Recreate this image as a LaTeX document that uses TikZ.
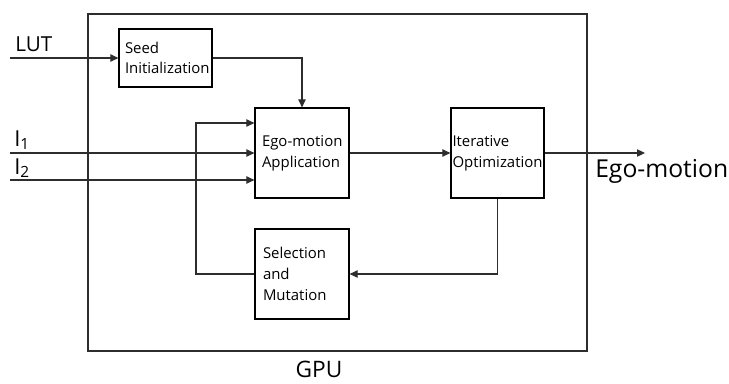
\documentclass[tikz,border=0pt]{standalone}
\usepackage{fontspec}
\setmainfont{Open Sans}
\usepackage{tikz}
\usetikzlibrary{
  arrows.meta,
  positioning,
  calc
}
\definecolor{wire}{RGB}{45,45,45}

\tikzset{
  block/.style={draw=black, line width=0.9pt, align=left, inner ysep=0pt,
    font=\fontsize{11.2}{15.5}\selectfont},
  wire/.style={draw=wire, line width=0.8pt, -{Triangle[length=6pt,width=5.5pt]}},
  sig/.style={font=\fontsize{15.5}{18}\selectfont, anchor=base west, inner sep=0pt}
}

\begin{document}
\begin{tikzpicture}[x=0.75pt, y=-0.75pt]
  \useasboundingbox (0,0) rectangle (729,383);
  % GPU frame
  \node[draw=wire, line width=0.8pt, minimum width=374.25pt, minimum height=252.75pt]
    (gpu) at (337.5,182.5) {};
  \node[sig, anchor=base, font=\fontsize{17}{20}\selectfont] (gpulbl) at (319,377) {GPU};

  % blocks
  \node[block, text width=60.75pt, inner xsep=4.5pt, minimum height=43.5pt]
    (seed) at (165.5,58) {Seed\\Initialization};
  \node[block, text width=60pt, inner xsep=5.25pt, minimum height=67.5pt]
    (ego) at (302,153) {\mbox{Ego-motion}\\Application};
  \node[block, text width=67.5pt, inner xsep=1.125pt, minimum height=67.5pt]
    (iter) at (497.5,153) {Iterative\\Optimization};
  \node[block, text width=58.5pt, inner xsep=6pt, minimum height=67.5pt]
    (sel) at (302,274) {Selection\\and\\Mutation};

  % inputs and output
  \coordinate (lutin) at (10,58);
  \coordinate (ione) at (10,153);
  \coordinate (itwo) at (10,180);
  \coordinate (loop) at (196,123);
  \coordinate (out) at (645,153);
  \node[sig] (lutlbl) at (15,51) {LUT};
  \node[sig, font=\fontsize{16.5}{18}\selectfont] (ionelbl) at (14,146) {I\textsubscript{1}};
  \node[sig, font=\fontsize{16.5}{18}\selectfont] (itwolbl) at (14,174) {I\textsubscript{2}};
  \node[sig, font=\fontsize{18.5}{20}\selectfont] (outlbl) at (595,177) {Ego-motion};

  % connectors
  \draw[wire] (lutin) -- (seed.west);
  \draw[wire] (seed.east) -| (ego.north);
  \draw[wire] (ione) -- (ego.west);
  \draw[wire] (itwo) -- (ego.west |- itwo);
  \draw[wire] (ego.east) -- (iter.west);
  \draw[wire] (iter.east) -- (out);
  \draw[wire] (iter.south) |- (sel.east);
  \draw[wire] (sel.west) -| (loop) -- (ego.west |- loop);
\end{tikzpicture}
\end{document}
